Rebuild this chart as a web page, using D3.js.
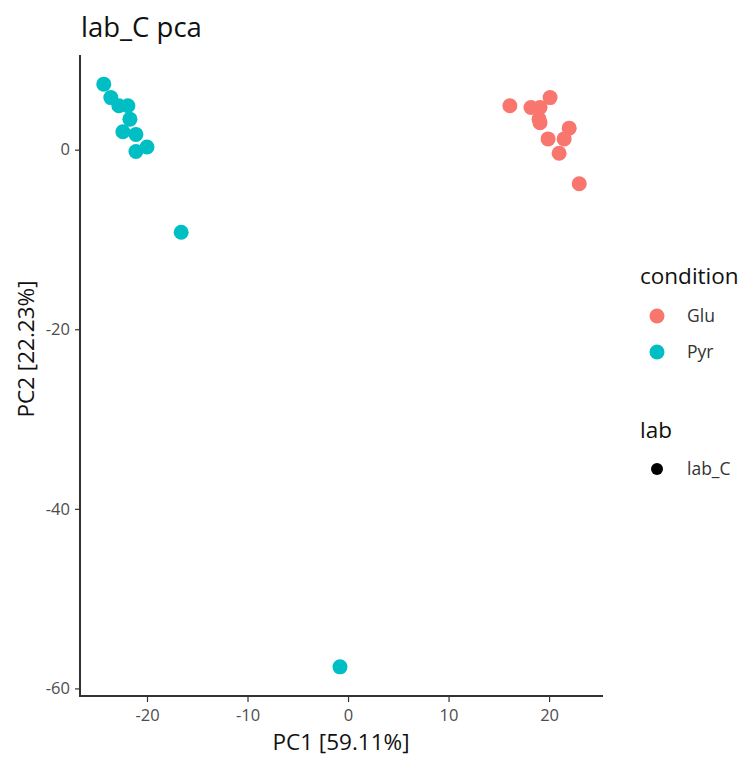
<!DOCTYPE html>
<html>
<head>
<meta charset="utf-8">
<script src="https://cdn.jsdelivr.net/npm/d3@7"></script>
<style>
  body { margin: 0; background: #fff; }
  text { font-family: 'Open Sans', 'Noto Sans', sans-serif; }
</style>
</head>
<body>
<div id="chart"></div>
<script>
// PCA scores
const gluPC1 = [16.1, 18.2, 19.1, 20.1, 19.0, 19.1, 22.0, 19.9, 21.5, 21.0, 23.0]
const gluPC2 = [4.9, 4.7, 4.7, 5.8, 3.4, 3.0, 2.4, 1.2, 1.2, -0.4, -3.8]
const pyrPC1 = [-24.3, -23.6, -22.8, -21.9, -21.7, -22.4, -21.1, -20.0, -21.1, -16.6, -0.8]
const pyrPC2 = [7.3, 5.8, 4.9, 4.9, 3.4, 2.0, 1.7, 0.3, -0.2, -9.2, -57.6]
const conditions = ['Glu', 'Pyr']
const condColors = ['#F8766D', '#00BFC4']
const labs = ['lab_C']
const xTicks = [-20, -10, 0, 10, 20]
const yTicks = [0, -20, -40, -60]

const width = 745
const height = 758
const margin = {left: 80, right: 142, top: 55, bottom: 62}

const points = []
gluPC1.forEach((v, i) => points.push({pc1: v, pc2: gluPC2[i], condition: 'Glu'}))
pyrPC1.forEach((v, i) => points.push({pc1: v, pc2: pyrPC2[i], condition: 'Pyr'}))

const svg = d3.select('#chart')
  .append('svg')
  .attr('width', width)
  .attr('height', height)

// ggplot style 5% expansion
function expand (ext) {
  const pad = (ext[1] - ext[0]) * 0.05
  return [ext[0] - pad, ext[1] + pad]
}

const x = d3.scaleLinear()
  .domain(expand(d3.extent(points, d => d.pc1)))
  .range([margin.left, width - margin.right])
const y = d3.scaleLinear()
  .domain(expand(d3.extent(points, d => d.pc2)))
  .range([height - margin.bottom, margin.top])
const color = d3.scaleOrdinal()
  .domain(conditions)
  .range(condColors)

const plotBottom = height - margin.bottom
const fmt = d => String(d)  // plain hyphen like R

// axes
const xAxis = svg.append('g')
  .attr('transform', `translate(0,${plotBottom})`)
  .call(d3.axisBottom(x).tickValues(xTicks).tickFormat(fmt).tickSize(6).tickPadding(7).tickSizeOuter(0))
const yAxis = svg.append('g')
  .attr('transform', `translate(${margin.left},0)`)
  .call(d3.axisLeft(y).tickValues(yTicks).tickFormat(fmt).tickSize(5).tickPadding(5).tickSizeOuter(0))

;[xAxis, yAxis].forEach(g => {
  g.select('.domain').attr('stroke', '#333').attr('stroke-width', 2)
  g.selectAll('.tick line').attr('stroke', '#333').attr('stroke-width', 1.2)
  g.selectAll('.tick text')
    .attr('fill', '#4d4d4d')
    .style('font-size', '16.5px')
})
// extend x domain line to meet y axis
xAxis.select('.domain').attr('d', `M${margin.left - 1},0H${width - margin.right}`)
yAxis.select('.domain').attr('d', `M0,${margin.top}V${plotBottom + 1}`)

// points
svg.append('g')
  .selectAll('circle')
  .data(points)
  .enter()
  .append('circle')
  .attr('cx', d => x(d.pc1))
  .attr('cy', d => y(d.pc2))
  .attr('r', 7.5)
  .style('fill', d => color(d.condition))

// titles
svg.append('text')
  .attr('x', margin.left + 1)
  .attr('y', 37)
  .style('font-size', '27.5px')
  .attr('fill', '#111')
  .text('lab_C pca')

svg.append('text')
  .attr('x', 341)
  .attr('y', 750)
  .attr('text-anchor', 'middle')
  .style('font-size', '22.5px')
  .attr('fill', '#111')
  .text('PC1 [59.11%]')

svg.append('text')
  .attr('transform', `translate(34,349) rotate(-90)`)
  .attr('text-anchor', 'middle')
  .style('font-size', '22.5px')
  .attr('fill', '#111')
  .text('PC2 [22.23%]')

// legend
const legend = svg.append('g').attr('transform', 'translate(640,0)')
legend.append('text')
  .attr('x', 0).attr('y', 284)
  .style('font-size', '22.5px')
  .attr('fill', '#111')
  .text('condition')
legend.selectAll('.cond')
  .data(conditions)
  .enter()
  .append('g')
  .attr('class', 'cond')
  .attr('transform', (d, i) => `translate(0,${316 + i * 36})`)
  .each(function (d) {
    const g = d3.select(this)
    g.append('circle').attr('cx', 17).attr('cy', 0).attr('r', 7.5).style('fill', color(d))
    g.append('text').attr('x', 47).attr('y', 6)
      .style('font-size', '17.5px').attr('fill', '#333').text(d)
  })

legend.append('text')
  .attr('x', 0).attr('y', 438)
  .style('font-size', '22.5px')
  .attr('fill', '#111')
  .text('lab')
legend.selectAll('.lab')
  .data(labs)
  .enter()
  .append('g')
  .attr('class', 'lab')
  .attr('transform', (d, i) => `translate(0,${469 + i * 36})`)
  .each(function (d) {
    const g = d3.select(this)
    g.append('circle').attr('cx', 17).attr('cy', 0).attr('r', 6).style('fill', '#000')
    g.append('text').attr('x', 47).attr('y', 6)
      .style('font-size', '17.5px').attr('fill', '#333').text(d)
  })
</script>
</body>
</html>
